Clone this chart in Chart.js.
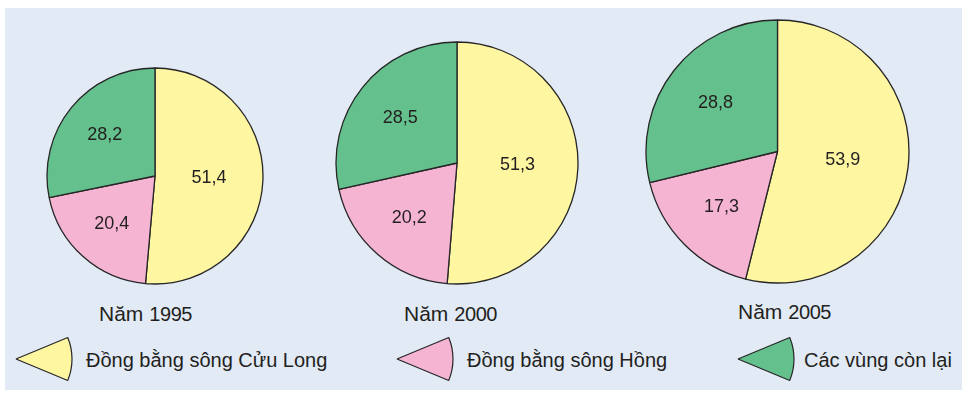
<!DOCTYPE html>
<html>
<head>
<meta charset="utf-8">
<script src="https://cdn.jsdelivr.net/npm/chart.js@4.4.1/dist/chart.umd.min.js"></script>
<style>
  body { margin: 0; background: #ffffff; width: 967px; height: 397px; overflow: hidden; }
  #panel { position: absolute; left: 5px; top: 8px; width: 957px; height: 382px; background: #e2eaf6; }
  canvas { position: absolute; }
  .year, .leg { position: absolute; font-family: "Liberation Sans", Arial, sans-serif; color: #231f20; white-space: nowrap; line-height: 1; }
  .year { font-size: 21px; }
  .year span { font-size: 20px; letter-spacing: -0.4px; }
  .leg { font-size: 20px; }
</style>
</head>
<body>
<div id="panel"></div>
<div id="root"></div>

<script>
const years = ["1995", "2000", "2005"];
const categories = ["Đồng bằng sông Cửu Long", "Đồng bằng sông Hồng", "Các vùng còn lại"];
const cuuLong = [51.4, 51.3, 53.9];
const songHong = [20.4, 20.2, 17.3];
const conLai = [28.2, 28.5, 28.8];
const colors = ["#fff6a2", "#f6b4d3", "#64c08c"];

// pie layout: center and radius of each circle (pixels)
const pies = [
  { cx: 155, cy: 176, r: 108, titleX: 99, titleY: 303 },
  { cx: 457, cy: 162.5, r: 121, titleX: 404, titleY: 303 },
  { cx: 777.5, cy: 151.5, r: 131.5, titleX: 738, titleY: 301 }
];

const legendPos = [
  { tipX: 16, y: 359, textX: 86 },
  { tipX: 397, y: 359, textX: 467 },
  { tipX: 738, y: 359, textX: 804 }
];

const root = document.getElementById("root");

const valueLabels = {
  id: "valueLabels",
  afterDatasetsDraw(chart) {
    const ctx = chart.ctx;
    const meta = chart.getDatasetMeta(0);
    const data = chart.data.datasets[0].data;
    ctx.save();
    ctx.font = "18px 'Liberation Sans', Arial, sans-serif";
    ctx.fillStyle = "#231f20";
    ctx.textAlign = "center";
    ctx.textBaseline = "middle";
    meta.data.forEach((arc, i) => {
      const p = arc.getProps(["x", "y", "startAngle", "endAngle", "outerRadius"], true);
      const mid = (p.startAngle + p.endAngle) / 2;
      const k = i === 0 ? 0.5 : 0.6;
      const x = p.x + Math.cos(mid) * p.outerRadius * k;
      const y = p.y + Math.sin(mid) * p.outerRadius * k;
      ctx.fillText(data[i].toFixed(1).replace(".", ","), x, y);
    });
    ctx.restore();
  }
};

years.forEach((year, i) => {
  const p = pies[i];
  const size = Math.ceil(2 * p.r + 6);
  const canvas = document.createElement("canvas");
  canvas.width = size;
  canvas.height = size;
  canvas.style.left = (p.cx - size / 2) + "px";
  canvas.style.top = (p.cy - size / 2) + "px";
  canvas.style.width = size + "px";
  canvas.style.height = size + "px";
  root.appendChild(canvas);

  new Chart(canvas.getContext("2d"), {
    type: "pie",
    data: {
      labels: categories,
      datasets: [{
        data: [cuuLong[i], songHong[i], conLai[i]],
        backgroundColor: colors,
        borderColor: "#262626",
        borderWidth: 1.3,
        hoverOffset: 0
      }]
    },
    options: {
      responsive: false,
      animation: false,
      events: [],
      radius: p.r,
      layout: { padding: 0 },
      plugins: { legend: { display: false }, tooltip: { enabled: false } }
    },
    plugins: [valueLabels]
  });

  const t = document.createElement("div");
  t.className = "year";
  t.style.left = p.titleX + "px";
  t.style.top = p.titleY + "px";
  t.innerHTML = "Năm <span>" + year + "</span>";
  root.appendChild(t);
});

// legend: wedge icons drawn as small pies (one slice, 45 degrees)
categories.forEach((name, i) => {
  const l = legendPos[i];
  const w = 70, h = 50, rad = 56;
  const canvas = document.createElement("canvas");
  canvas.width = w;
  canvas.height = h;
  canvas.style.width = w + "px";
  canvas.style.height = h + "px";
  // with a 45 deg slice pointing right, chart.js shifts the center left by rad/2
  canvas.style.left = (l.tipX + rad / 2 - w / 2) + "px";
  canvas.style.top = (l.y - h / 2) + "px";
  root.appendChild(canvas);

  new Chart(canvas.getContext("2d"), {
    type: "pie",
    data: {
      labels: [name],
      datasets: [{
        data: [1],
        backgroundColor: [colors[i]],
        borderColor: "#262626",
        borderWidth: 1.2,
        hoverOffset: 0
      }]
    },
    options: {
      responsive: false,
      animation: false,
      events: [],
      rotation: 67.5,
      circumference: 45,
      radius: rad,
      layout: { padding: 0 },
      plugins: { legend: { display: false }, tooltip: { enabled: false } }
    }
  });

  const t = document.createElement("div");
  t.className = "leg";
  t.style.left = l.textX + "px";
  t.style.top = (l.y - 9) + "px";
  t.textContent = name;
  root.appendChild(t);
});
</script>
</body>
</html>
